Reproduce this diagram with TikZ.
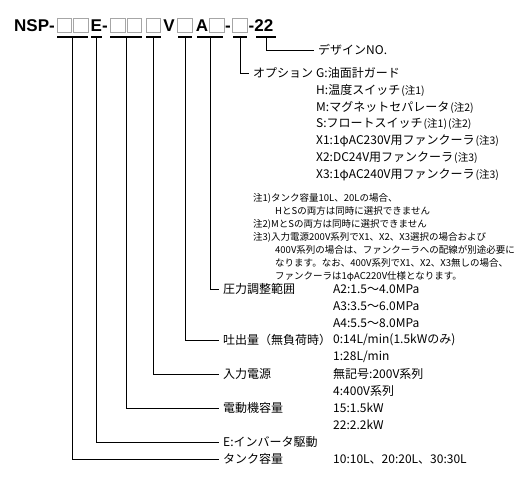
\documentclass[tikz,border=0pt]{standalone}
\usepackage{fontspec}
\newfontfamily\jp{Noto Sans CJK JP}
\newfontfamily\ttlfont{Liberation Sans}
\begin{document}
\begin{tikzpicture}[x=1pt,y=-1pt,
  ttl/.style={font=\ttlfont\bfseries\fontsize{17}{17}\selectfont, inner sep=0pt},
  bx/.style={draw=black!35, line width=0.7pt, minimum width=14.5pt, minimum height=14pt, inner sep=0pt},
  ul/.style={line width=1.6pt},
  conn/.style={line width=0.8pt, shorten >=4pt},
  lbl/.style={font=\jp\fontsize{12}{14}\selectfont, inner sep=0pt, anchor=west},
  val/.style={font=\jp\fontsize{12}{14}\selectfont, inner sep=0pt, anchor=west},
  nt/.style={font=\jp\fontsize{9.5}{11}\selectfont, inner sep=0pt, anchor=west}]
\newcommand\chu[1]{{\fontsize{10.5}{12}\selectfont\hspace{1pt}(注#1)}}
\useasboundingbox (0,0) rectangle (525,483);
% ---- title ----
\node[ttl, anchor=base east] (nsp) at (55,31) {NSP-};
\node[bx] (b1) at (64.5,25) {};
\node[bx] (b2) at (81,25) {};
\node[ttl, anchor=base west] (e) at (90.5,31) {E-};
\node[bx] (b3) at (118,25) {};
\node[bx] (b4) at (134.5,25) {};
\node[bx] (b5) at (153.5,25) {};
\node[ttl, anchor=base] (v) at (169,31) {V};
\node[bx] (b6) at (185,25) {};
\node[ttl, anchor=base] (a) at (202,31) {A};
\node[bx] (b7) at (217,25) {};
\node[ttl, anchor=base] (d1) at (228,31) {-};
\node[bx] (b8) at (240,25) {};
\node[ttl, anchor=base west] (d22) at (248.5,31) {-22};
% underlines
\draw[ul] (57,37) -- (88,37);
\draw[ul] (91,37) -- (102,37);
\draw[ul] (110,37) -- (142,37);
\draw[ul] (146,37) -- (161,37);
\draw[ul] (178,37) -- (192,37);
\draw[ul] (197,37) -- (223,37);
\draw[ul] (233,37) -- (247,37);
\draw[ul] (256,37) -- (276,37);
\coordinate (u1) at (72.5,37);
\coordinate (u2) at (96.5,37);
\coordinate (u3) at (126,37);
\coordinate (u4) at (153.5,37);
\coordinate (u5) at (185,37);
\coordinate (u6) at (210,37);
\coordinate (u7) at (240,37);
\coordinate (u8) at (266,37);
% ---- labels ----
\node[lbl] (design) at (318,50) {デザインNO.};
\node[lbl] (option) at (253,73) {オプション};
\node[val] (o1) at (316,73) {G:油面計ガード};
\node[val] (o2) at (316,90) {H:温度スイッチ\chu1};
\node[val] (o3) at (316,107) {M:マグネットセパレータ\chu2};
\node[val] (o4) at (316,124) {S:フロートスイッチ\chu1\chu2};
\node[val] (o5) at (316,141) {X1:1φAC230V用ファンクーラ\chu3};
\node[val] (o6) at (316,158) {X2:DC24V用ファンクーラ\chu3};
\node[val] (o7) at (316,175) {X3:1φAC240V用ファンクーラ\chu3};
% notes
\node[nt] (n1) at (253,198) {注1)タンク容量10L、20Lの場合、};
\node[nt] (n1b) at (275,211) {HとSの両方は同時に選択できません};
\node[nt] (n2) at (253,224) {注2)MとSの両方は同時に選択できません};
\node[nt] (n3) at (253,237) {注3)入力電源200V系列でX1、X2、X3選択の場合および};
\node[nt] (n3b) at (275,250) {400V系列の場合は、ファンクーラへの配線が別途必要に};
\node[nt] (n3c) at (275,263) {なります。なお、400V系列でX1、X2、X3無しの場合、};
\node[nt] (n3d) at (275,276) {ファンクーラは1φAC220V仕様となります。};
% spec rows
\node[lbl] (press) at (223,289) {圧力調整範囲};
\node[val] (p1) at (333,289) {A2:1.5〜4.0MPa};
\node[val] (p2) at (333,306) {A3:3.5〜6.0MPa};
\node[val] (p3) at (333,323) {A4:5.5〜8.0MPa};
\node[lbl] (disc) at (223,340) {吐出量（無負荷時）};
\node[val] (q1) at (333,340) {0:14L/min(1.5kWのみ)};
\node[val] (q2) at (333,357) {1:28L/min};
\node[lbl] (power) at (223,374) {入力電源};
\node[val] (w1) at (333,374) {無記号:200V系列};
\node[val] (w2) at (333,391) {4:400V系列};
\node[lbl] (motor) at (223,408) {電動機容量};
\node[val] (m1) at (333,408) {15:1.5kW};
\node[val] (m2) at (333,425) {22:2.2kW};
\node[lbl] (inv) at (223,442) {E:インバータ駆動};
\node[lbl] (tank) at (223,459) {タンク容量};
\node[val] (t1) at (333,459) {10:10L、20:20L、30:30L};
% ---- connectors ----
\draw[conn] (u8) |- (design.west);
\draw[conn] (u7) |- (option.west);
\draw[conn] (u6) |- (press.west);
\draw[conn] (u5) |- (disc.west);
\draw[conn] (u4) |- (power.west);
\draw[conn] (u3) |- (motor.west);
\draw[conn] (u2) |- (inv.west);
\draw[conn] (u1) |- (tank.west);
\end{tikzpicture}
\end{document}
